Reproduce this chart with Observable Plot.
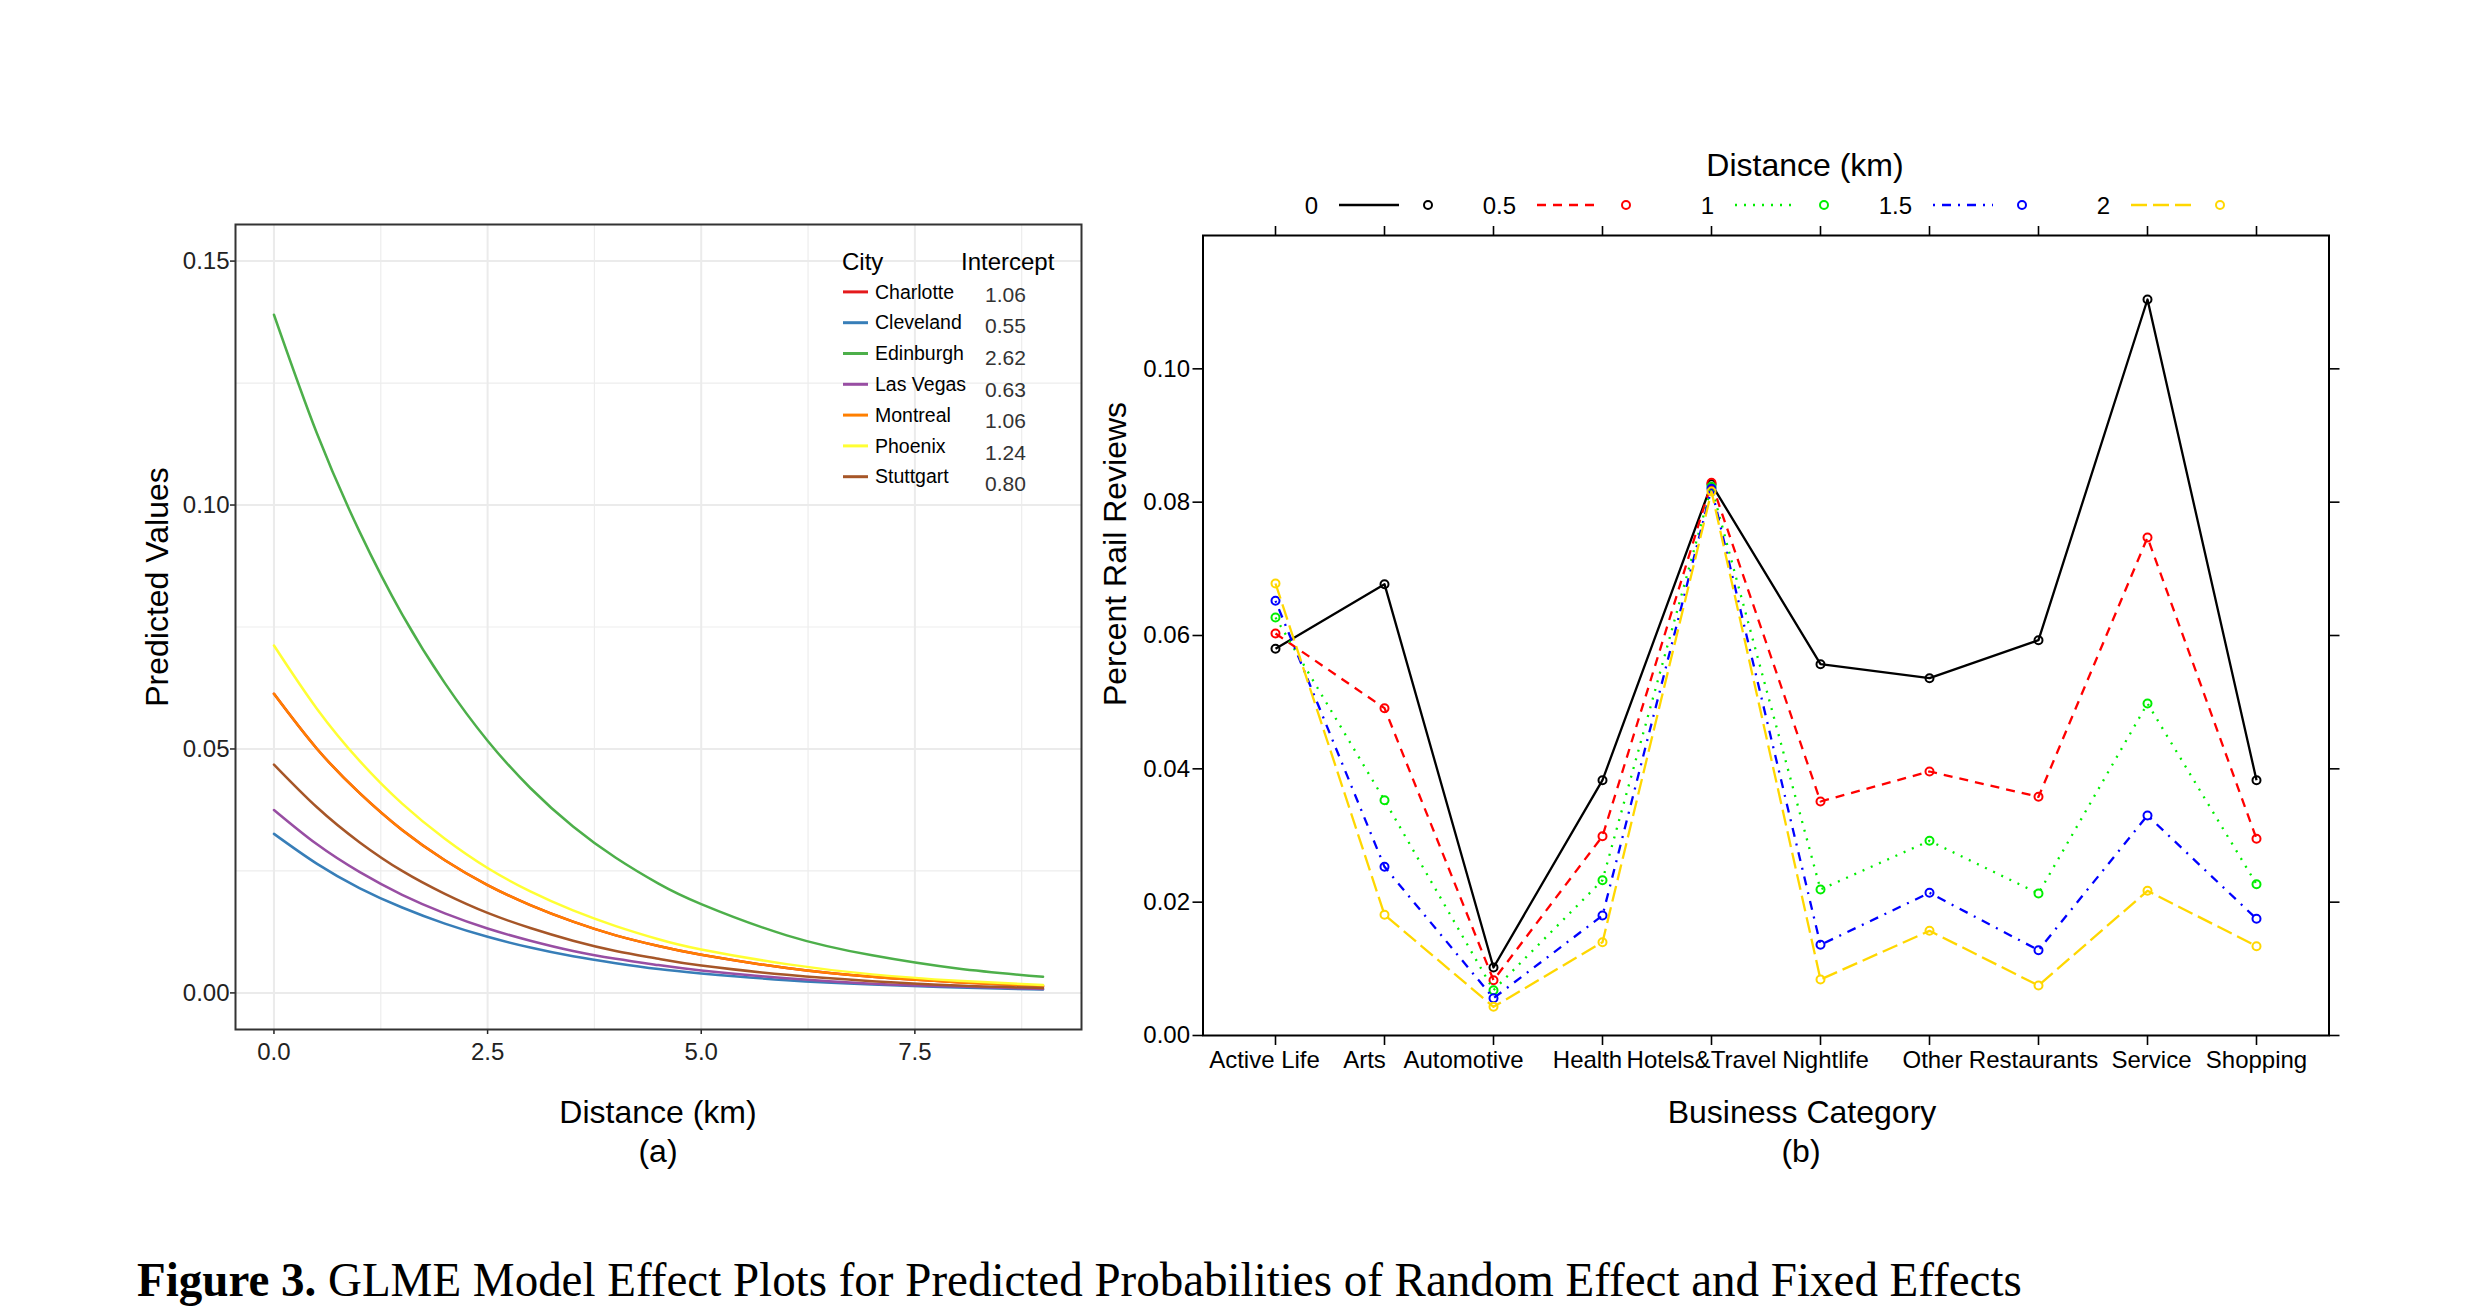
<!DOCTYPE html>
<html>
<head>
<meta charset="utf-8">
<script src="https://cdn.jsdelivr.net/npm/d3@7"></script>
<script src="https://cdn.jsdelivr.net/npm/@observablehq/plot@0.6"></script>
<style>
  html, body { margin: 0; padding: 0; background: #ffffff; }
  #fig { position: relative; width: 2480px; height: 1312px; background: #ffffff; overflow: hidden; }
  #fig > svg, #fig > figure { position: absolute; margin: 0; }
</style>
</head>
<body>
<div id="fig"></div>
<script>
// ---------- Panel (a) data ----------
const cities = ["Charlotte", "Cleveland", "Edinburgh", "Las Vegas", "Montreal", "Phoenix", "Stuttgart"];
const intercepts = ["1.06", "0.55", "2.62", "0.63", "1.06", "1.24", "0.80"];
const cityColors = ["#E41A1C", "#377EB8", "#4DAF4A", "#984EA3", "#FF7F00", "#FFFF33", "#A65628"];
const distanceKm = [0, 0.5, 1, 1.5, 2, 2.5, 3, 3.5, 4, 4.5, 5, 6, 7, 8, 9];
const charlotte = [0.0613, 0.0501, 0.0410, 0.0334, 0.0272, 0.0221, 0.0180, 0.0146, 0.0118, 0.0096, 0.0078, 0.0051, 0.0033, 0.0022, 0.0014];
const cleveland = [0.0326, 0.0265, 0.0215, 0.0175, 0.0142, 0.0115, 0.0093, 0.0075, 0.0061, 0.0049, 0.0040, 0.0026, 0.0017, 0.0011, 0.0007];
const edinburgh = [0.1390, 0.1148, 0.0946, 0.0776, 0.0635, 0.0517, 0.0420, 0.0341, 0.0277, 0.0224, 0.0182, 0.0118, 0.0077, 0.0050, 0.0033];
const lasVegas  = [0.0375, 0.0305, 0.0248, 0.0201, 0.0163, 0.0132, 0.0107, 0.0086, 0.0070, 0.0057, 0.0046, 0.0030, 0.0019, 0.0013, 0.0008];
const montreal  = [0.0613, 0.0501, 0.0410, 0.0334, 0.0272, 0.0221, 0.0180, 0.0146, 0.0118, 0.0096, 0.0078, 0.0051, 0.0033, 0.0022, 0.0014];
const phoenix   = [0.0712, 0.0583, 0.0476, 0.0388, 0.0316, 0.0256, 0.0208, 0.0169, 0.0137, 0.0110, 0.0089, 0.0059, 0.0038, 0.0025, 0.0016];
const stuttgart = [0.0468, 0.0381, 0.0309, 0.0250, 0.0203, 0.0164, 0.0133, 0.0107, 0.0086, 0.0070, 0.0056, 0.0037, 0.0024, 0.0015, 0.0010];
const citySeries = [charlotte, cleveland, edinburgh, lasVegas, montreal, phoenix, stuttgart];
const xTicksA = [0, 2.5, 5, 7.5];
const xMinorA = [1.25, 3.75, 6.25, 8.75];
const yTicksA = [0, 0.05, 0.10, 0.15];
const yMinorA = [0.025, 0.075, 0.125];

// ---------- Panel (b) data ----------
const categories = ["Active Life", "Arts", "Automotive", "Health", "Hotels&Travel", "Nightlife", "Other", "Restaurants", "Service", "Shopping"];
const distLevels = ["0", "0.5", "1", "1.5", "2"];
const rail0  = [0.0580, 0.0677, 0.0102, 0.0383, 0.0827, 0.0557, 0.0536, 0.0593, 0.1104, 0.0383];
const rail05 = [0.0603, 0.0491, 0.0083, 0.0299, 0.0829, 0.0351, 0.0396, 0.0358, 0.0747, 0.0295];
const rail1  = [0.0627, 0.0353, 0.0068, 0.0233, 0.0823, 0.0219, 0.0292, 0.0213, 0.0498, 0.0227];
const rail15 = [0.0652, 0.0253, 0.0056, 0.0180, 0.0820, 0.0136, 0.0214, 0.0128, 0.0330, 0.0175];
const rail2  = [0.0678, 0.0181, 0.0043, 0.0140, 0.0816, 0.0084, 0.0157, 0.0075, 0.0217, 0.0134];
const railSeries = [rail0, rail05, rail1, rail15, rail2];
const yTicksB = [0, 0.02, 0.04, 0.06, 0.08, 0.10];

// ---------- styles (kept apart from data) ----------
const levelColors = ["#000000", "#FF0000", "#00EE00", "#0000FF", "#FFD700"];
const levelDashes = ["none", "9,7", "2,7", "2,7,9,7", "16,6"];
// small horizontal nudges of the category labels, as they sit in the original
const labelNudge = [-11, -20, -30, -15, -10, 5, 3, -5, 4, 0];

const SANS = "'Liberation Sans', Arial, Helvetica, sans-serif";
const SERIF = "'Liberation Serif', 'Times New Roman', Times, serif";

// ---------- tables ----------
const curveRows = [];
cities.forEach((c, ci) => distanceKm.forEach((d, i) => curveRows.push({city: c, dist: d, value: citySeries[ci][i]})));

const fig = document.getElementById("fig");

// ---------- Panel (a) ----------
const plotA = Plot.plot({
  width: 1120, height: 1100,
  marginLeft: 235, marginRight: 39, marginTop: 224, marginBottom: 71,
  x: {domain: [-0.45, 9.45], label: null},
  y: {domain: [-0.0075, 0.1575], label: null},
  color: {domain: cities, range: cityColors},
  style: {fontFamily: SANS, fontSize: "24px", color: "#222", background: "transparent"},
  marks: [
    Plot.gridX(xMinorA, {stroke: "#EDEDED", strokeOpacity: 1, strokeWidth: 1.2}),
    Plot.gridY(yMinorA, {stroke: "#EDEDED", strokeOpacity: 1, strokeWidth: 1.2}),
    Plot.gridX(xTicksA, {stroke: "#EBEBEB", strokeOpacity: 1, strokeWidth: 2}),
    Plot.gridY(yTicksA, {stroke: "#EBEBEB", strokeOpacity: 1, strokeWidth: 2}),
    Plot.line(curveRows, {x: "dist", y: "value", z: "city", stroke: "city", strokeWidth: 2.5, curve: "natural"}),
    Plot.axisX({ticks: xTicksA, tickFormat: d => d.toFixed(1), tickSize: 5, tickPadding: 8, fontSize: 24, strokeWidth: 1.5, label: null}),
    Plot.axisY({ticks: yTicksA, tickFormat: d => d.toFixed(2), tickSize: 5, tickPadding: 1, fontSize: 24, strokeWidth: 1.5, label: null}),
    Plot.frame({stroke: "#333333", strokeWidth: 2})
  ]
});
plotA.style.left = "0px"; plotA.style.top = "0px";
fig.appendChild(plotA);

// ---------- Panel (b) ----------
const marksB = [];
railSeries.forEach((vals, si) => {
  const rows = categories.map((c, i) => ({cat: c, value: vals[i], level: distLevels[si]}));
  marksB.push(Plot.line(rows, {x: "cat", y: "value", stroke: levelColors[si], strokeWidth: 2.3,
    strokeDasharray: levelDashes[si], strokeLinecap: "butt"}));
  marksB.push(Plot.dot(rows, {x: "cat", y: "value", stroke: levelColors[si], fill: "none", r: 4, strokeWidth: 2}));
});
const catLabels = categories.map((c, i) => Plot.text([c], {
  x: d => d, frameAnchor: "bottom", lineAnchor: "top", dy: 15, dx: labelNudge[i],
  fontSize: 24, fill: "#000", text: d => d
}));
const plotB = Plot.plot({
  width: 1360, height: 1100,
  marginLeft: 82.5, marginRight: 151.5, marginTop: 235, marginBottom: 65,
  x: {type: "point", domain: categories, padding: 0.633, label: null},
  y: {domain: [0, 0.12], label: null},
  style: {fontFamily: SANS, fontSize: "24px", color: "#000", background: "transparent"},
  marks: [
    ...marksB,
    Plot.axisX({anchor: "bottom", tickSize: 10, tickFormat: () => "", strokeWidth: 1.6, label: null}),
    ...catLabels,
    Plot.axisX({anchor: "top", tickSize: 10, tickFormat: () => "", strokeWidth: 1.6, label: null}),
    Plot.axisY({anchor: "left", ticks: yTicksB, tickFormat: d => d.toFixed(2), tickSize: 10, tickPadding: 3, fontSize: 24, strokeWidth: 1.6, label: null}),
    Plot.axisY({anchor: "right", ticks: yTicksB, tickSize: 10, tickFormat: () => "", strokeWidth: 1.6, label: null}),
    Plot.frame({stroke: "#000", strokeWidth: 2})
  ]
});
plotB.style.left = "1120px"; plotB.style.top = "0px";
fig.appendChild(plotB);

// ---------- overlay: titles, legends, caption ----------
const ov = d3.select(fig).append("svg")
  .attr("width", 2480).attr("height", 1312)
  .style("left", "0px").style("top", "0px").style("pointer-events", "none")
  .style("font-family", SANS);

// Panel (a) legend (inside panel)
ov.append("text").attr("x", 842).attr("y", 270).attr("font-size", 24).attr("fill", "#000").text("City");
ov.append("text").attr("x", 961).attr("y", 270).attr("font-size", 24).attr("fill", "#000").text("Intercept");
cities.forEach((c, i) => {
  const yb = 298.5 + i * 30.8;
  ov.append("line").attr("x1", 843).attr("x2", 868).attr("y1", yb - 6.6).attr("y2", yb - 6.6)
    .attr("stroke", cityColors[i]).attr("stroke-width", 3);
  ov.append("text").attr("x", 875).attr("y", yb).attr("font-size", 19.5).attr("fill", "#000").text(c);
  ov.append("text").attr("x", 985).attr("y", 301.7 + i * 31.6).attr("font-size", 21).attr("fill", "#333").text(intercepts[i]);
});

// Panel (a) axis titles
ov.append("text").attr("transform", "translate(168,587) rotate(-90)").attr("text-anchor", "middle")
  .attr("font-size", 32).attr("fill", "#000").text("Predicted Values");
ov.append("text").attr("x", 658).attr("y", 1123).attr("text-anchor", "middle").attr("font-size", 32).attr("fill", "#000").text("Distance (km)");
ov.append("text").attr("x", 658).attr("y", 1162).attr("text-anchor", "middle").attr("font-size", 32).attr("fill", "#000").text("(a)");

// Panel (b) axis titles
ov.append("text").attr("transform", "translate(1126,554) rotate(-90)").attr("text-anchor", "middle")
  .attr("font-size", 32).attr("fill", "#000").text("Percent Rail Reviews");
ov.append("text").attr("x", 1802).attr("y", 1123).attr("text-anchor", "middle").attr("font-size", 32).attr("fill", "#000").text("Business Category");
ov.append("text").attr("x", 1801).attr("y", 1162).attr("text-anchor", "middle").attr("font-size", 32).attr("fill", "#000").text("(b)");

// Panel (b) legend (top)
ov.append("text").attr("x", 1805).attr("y", 176).attr("text-anchor", "middle").attr("font-size", 32).attr("fill", "#000").text("Distance (km)");
distLevels.forEach((lv, i) => {
  const cx = 1428 + i * 198;
  ov.append("text").attr("x", cx - 110).attr("y", 214).attr("text-anchor", "end").attr("font-size", 24).attr("fill", "#000").text(lv);
  ov.append("line").attr("x1", cx - 89).attr("x2", cx - 29).attr("y1", 205).attr("y2", 205)
    .attr("stroke", levelColors[i]).attr("stroke-width", 2.3)
    .attr("stroke-dasharray", levelDashes[i] === "none" ? null : levelDashes[i]);
  ov.append("circle").attr("cx", cx).attr("cy", 205).attr("r", 4).attr("fill", "none")
    .attr("stroke", levelColors[i]).attr("stroke-width", 2);
});

// Caption
const cap = ov.append("text").attr("transform", "translate(137,1296) scale(1,1.04)")
  .attr("font-family", SERIF).attr("font-size", 47).attr("fill", "#000");
cap.append("tspan").attr("font-weight", "bold").text("Figure 3.");
cap.append("tspan").text(" GLME Model Effect Plots for Predicted Probabilities of Random Effect and Fixed Effects");
</script>
</body>
</html>
